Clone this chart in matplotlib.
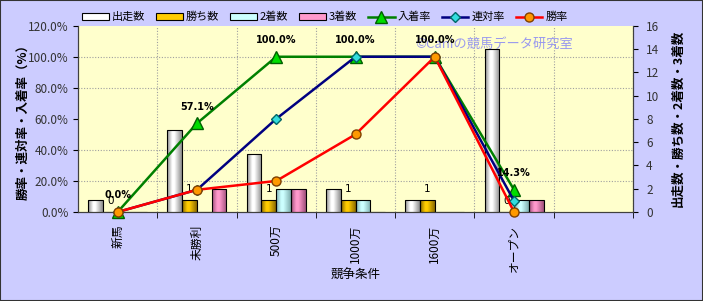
import numpy as np
import matplotlib
matplotlib.use("Agg")
import matplotlib.pyplot as plt
from matplotlib.colors import LinearSegmentedColormap
from matplotlib.patches import Patch, Rectangle

plt.rcParams['font.family'] = ['Noto Sans CJK JP', 'DejaVu Sans']

categories = ["新馬", "未勝利", "500万", "1000万", "1600万", "オープン"]
starts = [1, 7, 5, 2, 1, 14]        # 出走数
wins = [0, 1, 1, 1, 1, 0]           # 勝ち数
seconds = [0, 0, 2, 1, 0, 1]        # 2着数
thirds = [0, 2, 2, 0, 0, 1]         # 3着数
place_rate = [0.0, 57.1, 100.0, 100.0, 100.0, 14.3]   # 入着率
quinella_rate = [0.0, 14.3, 60.0, 100.0, 100.0, 7.1]  # 連対率
win_rate = [0.0, 14.3, 20.0, 50.0, 100.0, 0.0]        # 勝率

bar_series = [("出走数", starts, "#FFFFFF", "#8C8C8C"),
              ("勝ち数", wins, "#FFCC00", "#8A6A00"),
              ("2着数", seconds, "#CCFFFF", "#7FAFAF"),
              ("3着数", thirds, "#FF99CC", "#A0507A")]

W, H = 703, 301
fig = plt.figure(figsize=(W / 100, H / 100), dpi=100)
fig.patch.set_facecolor("#CCCCFF")
fig.patches.append(Rectangle((0, 0), 1, 1, transform=fig.transFigure, fill=False,
                             edgecolor="#333333", linewidth=1.5, zorder=10))

x0, x1, ytop, ybot = 78, 633, 25.7, 212
ax = fig.add_axes([x0 / W, 1 - ybot / H, (x1 - x0) / W, (ybot - ytop) / H])
ax2 = ax.twinx()
ax.set_facecolor("#FFFFCC")

x = np.arange(len(categories))
bw = 0.186
offsets = (np.arange(4) - 1.5) * bw
grad = np.linspace(0, 1, 64).reshape(1, -1)
gold_bars = None
for i, (name, vals, c, dark) in enumerate(bar_series):
    cmap = LinearSegmentedColormap.from_list(name, [(0, dark), (0.35, c), (0.5, c), (1, dark)])
    bars = ax.bar(x + offsets[i], vals, width=bw, color=c, edgecolor="black",
                  linewidth=0.8, zorder=3)
    for b in bars:
        if b.get_height() <= 0:
            continue
        bx, by = b.get_x(), b.get_y()
        im = ax.imshow(grad, extent=[bx, bx + b.get_width(), by, by + b.get_height()],
                       aspect="auto", cmap=cmap, zorder=2.9, interpolation="bilinear")
        im.set_clip_path(b)
        b.set_facecolor("none")
    if name == "勝ち数":
        gold_bars = bars
ax.set_xlim(-0.5, len(categories) + 0.5)
ax.set_ylim(0, 16)

for b, v in zip(gold_bars, wins):
    ax.annotate(str(v), (b.get_x() + b.get_width() / 2, b.get_height()),
                xytext=(0, 8), textcoords="offset points", ha="center", va="center",
                fontsize=7.5, family="DejaVu Sans", zorder=6)

ax.yaxis.tick_right()
ax.yaxis.set_label_position("right")
ax.set_yticks(np.arange(0, 17, 2))
ax.set_yticks(np.arange(0, 121, 20) / 120 * 16, minor=True)
ax.tick_params(axis="y", which="minor", length=0, right=False, left=False)
ax.tick_params(axis="y", which="major", labelsize=8.5, labelcolor="#333333",
               right=True, left=False, labelright=True, labelleft=False, pad=6)
ax.grid(which="minor", axis="y", color="#A0A0A0", linestyle=(0, (1, 1.5)), linewidth=0.8, zorder=0)
ax.set_xticks(x)
ax.set_xticklabels(categories, rotation=90, fontsize=8.5)
ax.set_xticks(np.arange(len(categories) + 1) + 0.5, minor=True)
ax.tick_params(axis="x", which="major", length=0, pad=9)
ax.tick_params(axis="x", which="minor", length=4)
ax.grid(which="minor", axis="x", color="#A0A0A0", linestyle=(0, (1, 1.5)), linewidth=0.8, zorder=0)
ax.set_ylabel("出走数・勝ち数・2着数・3着数", rotation=90, fontsize=9, fontweight="bold",
              labelpad=9)
ax.set_xlabel("競争条件", fontsize=9, labelpad=-2)
ax.spines["top"].set_visible(False)
for s in ["left", "right", "bottom"]:
    ax.spines[s].set_color("#404040")

ax2.set_ylim(0, 120)
ax2.patch.set_visible(False)
ax2.yaxis.tick_left()
ax2.yaxis.set_label_position("left")
ax2.set_yticks(np.arange(0, 121, 20))
ax2.set_yticklabels([f"{v:.1f}%" for v in np.arange(0, 121, 20)])
ax2.tick_params(axis="y", labelsize=8.5, labelcolor="#333333", left=True, right=False,
                labelleft=True, labelright=False)
ax2.set_ylabel("勝率・連対率・入着率（%）", fontsize=9, fontweight="bold", labelpad=-1)
ax2.spines["top"].set_visible(False)
for s in ["left", "right", "bottom"]:
    ax2.spines[s].set_color("#404040")

l1, = ax2.plot(x, place_rate, color="#008000", linewidth=1.8, marker="^", markersize=8,
               markerfacecolor="#00DD00", markeredgecolor="#006000", zorder=5, clip_on=False)
l2, = ax2.plot(x, quinella_rate, color="#000080", linewidth=1.8, marker="D", markersize=5,
               markerfacecolor="#33DDDD", markeredgecolor="#006666", zorder=5, clip_on=False)
l3, = ax2.plot(x, win_rate, color="#FF0000", linewidth=1.8, marker="o", markersize=6.5,
               markerfacecolor="#FF9900", markeredgecolor="#804000", zorder=5, clip_on=False)

for xi, v in zip(x, place_rate):
    ax2.annotate(f"{v:.1f}%", (xi, v), xytext=(0, 12), textcoords="offset points",
                 ha="center", va="center", fontsize=7, fontweight="bold",
                 family="DejaVu Sans", zorder=6)

ax2.text(0.607, 0.9, "©Caniの競馬データ研究室", transform=ax2.transAxes, fontsize=9.5,
         color="#9999EE", ha="left", va="center", zorder=1)

handles = [Patch(facecolor=c, edgecolor="black", linewidth=0.8) for _, _, c, _ in bar_series]
handles += [l1, l2, l3]
labels = [n for n, _, _, _ in bar_series] + ["入着率", "連対率", "勝率"]
fig.legend(handles, labels, loc="center left", bbox_to_anchor=(82 / W, 1 - 17 / H), ncol=7,
           frameon=False, fontsize=8, handlelength=2.4, handleheight=0.6, columnspacing=0.95,
           handletextpad=0.3, borderaxespad=0, borderpad=0)

fig.savefig("out.png", dpi=100, facecolor=fig.get_facecolor())
